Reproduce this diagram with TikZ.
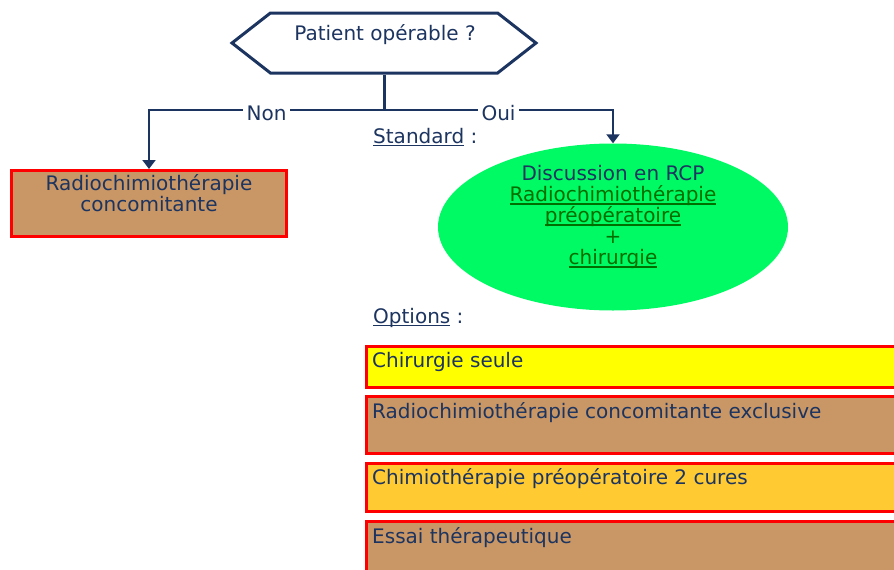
\documentclass[tikz,border=0pt]{standalone}
\usepackage{fontspec}
\setmainfont{DejaVu Sans}
\usetikzlibrary{shapes.geometric, shapes.symbols, arrows.meta}
\newcommand{\RCT}{Radiochimiothérapie}
\newcommand{\uln}[1]{\setbox0\hbox{#1}\rlap{\rule[-3pt]{\wd0}{1.3pt}}\box0\relax}
\newcommand{\Green}[1]{{\color{mydkgreen}\uln{#1}}}
\definecolor{mynavy}{RGB}{28,52,96}
\definecolor{mytan}{RGB}{201,150,101}
\definecolor{myyellow}{RGB}{255,255,0}
\definecolor{mygold}{RGB}{255,202,50}
\definecolor{mygreen}{RGB}{0,250,100}
\definecolor{mydkgreen}{RGB}{0,110,0}
\definecolor{myred}{RGB}{255,0,0}

\begin{document}
\begin{tikzpicture}[x=1pt, y=-1pt, >={Triangle[width=13pt,length=9pt]},
    font=\fontsize{20}{21}\selectfont, text=mynavy,
    txt/.style={inner sep=0pt, align=center},
    lefttxt/.style={anchor=base west, inner sep=0pt},
    box/.style={rectangle, draw=myred, line width=3pt, fill=#1},
    optbox/.style={box=#1, anchor=north west, minimum width=600pt},
    link/.style={draw=mynavy, line width=2pt},
    ans/.style={fill=white, inner xsep=4pt, inner ysep=1pt, yshift=-3pt}]
  \useasboundingbox (0,0) rectangle (894,570);
  \clip (0,0) rectangle (894,570);
  \node[signal, signal to=west and east, signal pointer angle=76, draw=mynavy, line width=3pt,
        minimum width=304pt, minimum height=60pt] (Q) at (384,43) {};
  \node[txt]               (Qt)   at (385,35)    {Patient opérable ?};
  \coordinate              (split) at (384,110);
  \node[box=mytan, minimum width=275pt, minimum height=66pt] (RCC) at (149,203.5) {};
  \node[txt]               (RCCt) at (149,193)   {\RCT\\concomitante};
  \node[lefttxt]           (Std)  at (373,143)   {\uln{Standard} :};
  \node[ellipse, fill=mygreen, minimum width=350pt, minimum height=167pt, inner sep=0pt] (RCP) at (613,227) {};
  \node[txt]               (RCPt) at (613,217)   {Discussion en RCP\\\Green{\RCT}\\\Green{préopératoire}\\{\color{mydkgreen}+}\\\Green{chirurgie}};
  \node[lefttxt]           (Opt)  at (373,323)   {\uln{Options} :};
  \node[optbox=myyellow, minimum height=41pt] (O1) at (365,345) {};
  \node[optbox=mytan,    minimum height=57pt] (O2) at (365,395) {};
  \node[optbox=mygold,   minimum height=48pt] (O3) at (365,462) {};
  \node[optbox=mytan,    minimum height=80pt] (O4) at (365,520) {};
  \node[lefttxt]           (O1t)  at (372,367)   {Chirurgie seule};
  \node[lefttxt]           (O2t)  at (372,418)   {\RCT{} concomitante exclusive};
  \node[lefttxt]           (O3t)  at (372,484)   {Chimiothérapie préopératoire 2 cures};
  \node[lefttxt]           (O4t)  at (372,543)   {Essai thérapeutique};
  \draw[link, line width=3pt] (Q.south) -- (split);
  \draw[link, ->] (split) -- node[ans]{Non} (split -| RCC.north) -- (RCC.north);
  \draw[link, ->] (split) -- node[ans]{Oui} (split -| RCP.north) -- (RCP.north);
\end{tikzpicture}
\end{document}
